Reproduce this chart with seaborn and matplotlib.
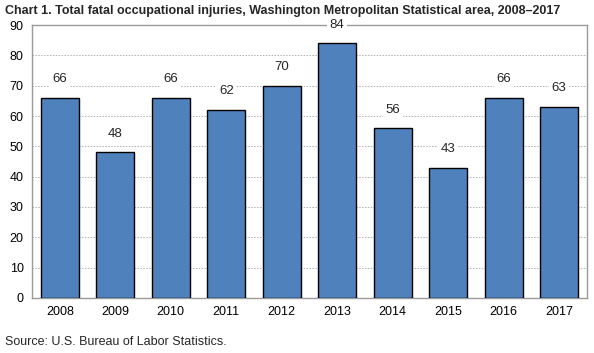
import pandas as pd
import seaborn as sns
import matplotlib.pyplot as plt

# Chart data
years = ["2008", "2009", "2010", "2011", "2012", "2013", "2014", "2015", "2016", "2017"]
injuries = [66, 48, 66, 62, 70, 84, 56, 43, 66, 63]

df = pd.DataFrame({"Year": years, "Injuries": injuries})

sns.set_style("white")
plt.rcParams['font.family'] = ['Liberation Sans', 'DejaVu Sans']

fig = plt.figure(figsize=(5.94, 3.53), dpi=100)
ax = fig.add_axes([0.054, 0.156, 0.934, 0.773])

sns.barplot(data=df, x="Year", y="Injuries", color="#4f81bd", saturation=1,
            edgecolor="black", linewidth=1, width=0.68, ax=ax, zorder=3)

ax.set_ylim(0, 90)
ax.set_yticks(range(0, 91, 10))
ax.set_xlim(-0.5, len(years) - 0.5)
ax.yaxis.grid(True, linestyle=(0, (1.5, 1.5)), color="#b0b0b0", linewidth=0.7, zorder=0)
ax.set_axisbelow(True)
for s in ax.spines.values():
    s.set_color("#9a9a9a")
    s.set_linewidth(1)
ax.tick_params(axis="both", length=0, labelsize=9, pad=6, colors="black")
ax.set_xlabel("")
ax.set_ylabel("")

# Value labels with white background over the grid
for i, v in enumerate(injuries):
    ax.annotate(str(v), (i, v), xytext=(0, 9), textcoords="offset points",
                ha="center", va="bottom", fontsize=9.5,
                bbox=dict(facecolor="white", edgecolor="none", pad=2), zorder=4)

fig.text(0.008, 0.985, "Chart 1. Total fatal occupational injuries, Washington Metropolitan Statistical area, 2008\u20132017",
         ha="left", va="top", fontsize=9, fontweight="bold")
fig.text(0.008, 0.015, "Source: U.S. Bureau of Labor Statistics.", ha="left", va="bottom", fontsize=9)

plt.savefig("out.png", dpi=100)
